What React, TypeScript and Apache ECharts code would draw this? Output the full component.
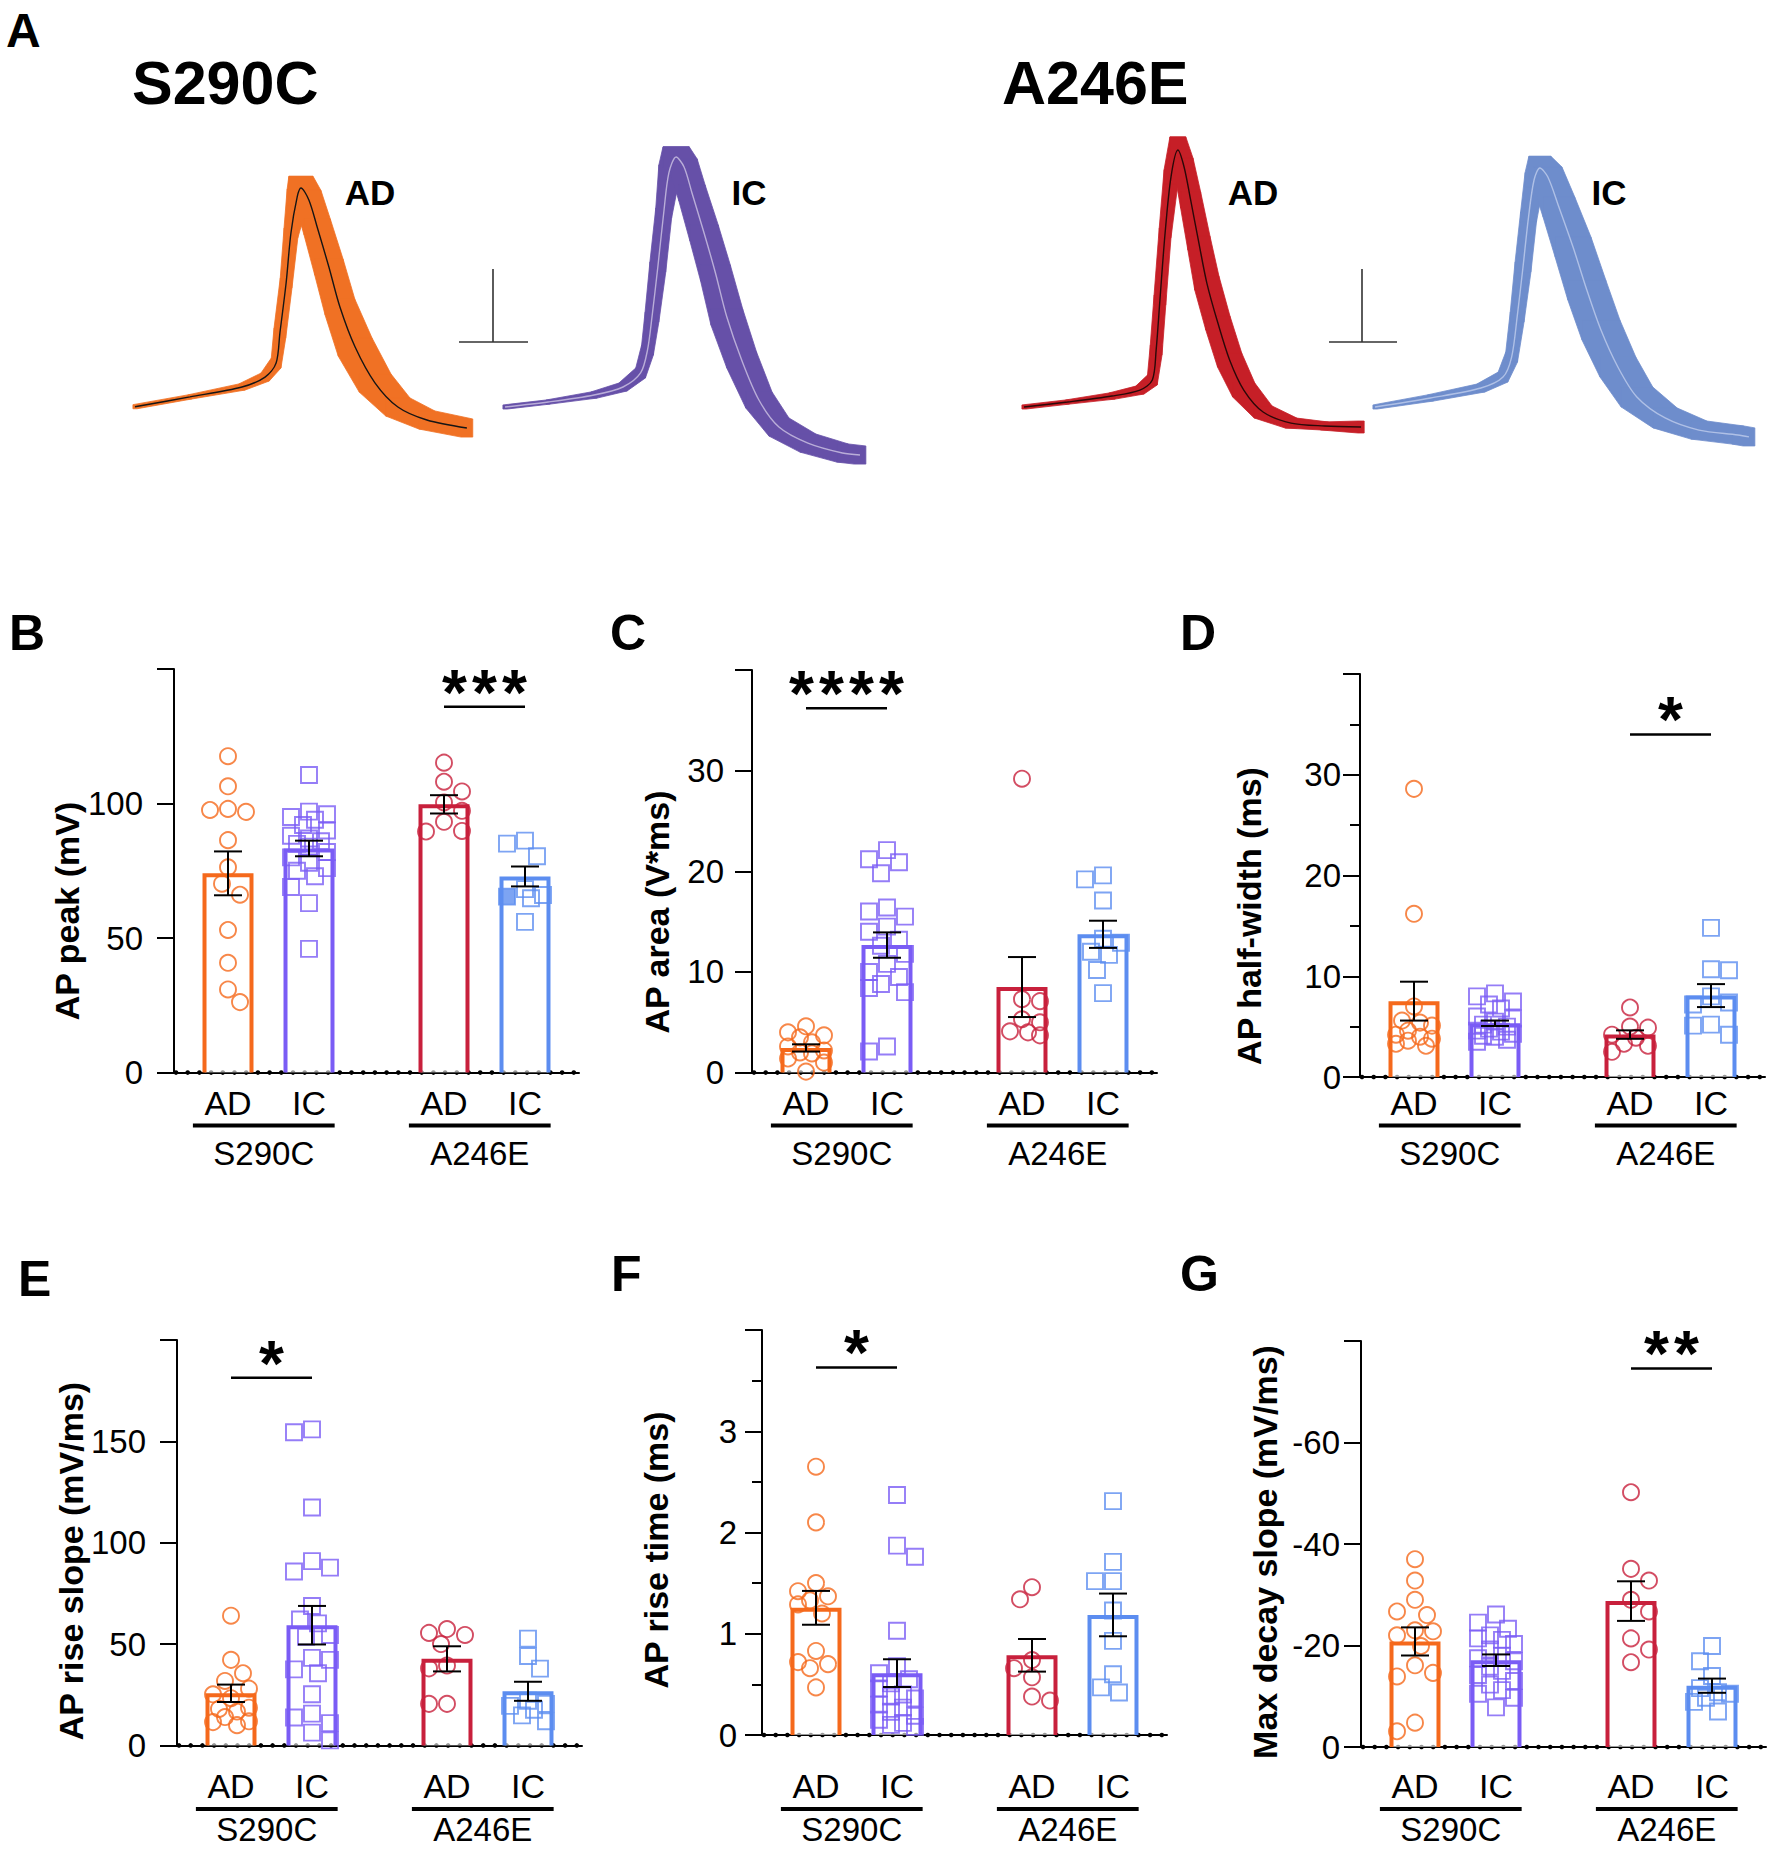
import React, { useEffect, useRef } from "react";
import * as echarts from "echarts";

const FONT = "'Liberation Sans', Arial, Helvetica, sans-serif";

// ---------- categories ----------
const conditions = ["AD", "IC", "AD", "IC"];
const groupNames = ["S290C", "A246E"];
const catPos = [2, 5, 10, 13];
const groupMembers = [
  [0, 1],
  [2, 3],
];
const COLORS = ["#F5691C", "#7A5CF5", "#C8203C", "#5C8DF0"];
const SYMBOLS = ["circle", "rect", "circle", "rect"];

// ---------- Panel B: AP peak (mV) ----------
const B_S290C_AD = [117.6, 106.4, 98.0, 97.6, 96.9, 86.4, 76.3, 70.2, 66.1, 53.0, 40.8, 30.9, 26.2];
const B_S290C_IC = [110.6, 97, 96, 95, 94, 92, 90, 88, 87, 86, 85, 84, 82, 80, 78, 76, 75, 73, 69, 63, 46];
const B_A246E_AD = [115.2, 108.1, 104.5, 100.4, 97.3, 93.2, 89.8, 89.6];
const B_A246E_IC = [86.2, 85.1, 80.4, 68.2, 66.0, 65.4, 64.8, 56.0];
const B_mean = [74.05, 83.3, 99.7, 72.9];
const B_sem = [8.15, 2.9, 3.4, 3.7];

// ---------- Panel C: AP area (V*ms) ----------
const C_S290C_AD = [4.6, 4.0, 3.7, 3.5, 3.0, 2.6, 2.2, 2.0, 1.9, 1.4, 1.0, 0.1];
const C_S290C_IC = [22.1, 21.2, 20.9, 19.8, 16.4, 16.0, 15.5, 14.5, 14.0, 13.2, 12.6, 11.8, 10.8, 10.0, 9.5, 8.8, 8.4, 8.0, 2.6, 2.1];
const C_A246E_AD = [29.2, 7.3, 7.1, 5.3, 5.0, 4.1, 4.0, 3.7];
const C_A246E_IC = [19.6, 19.2, 17.1, 13.3, 12.9, 12.0, 11.7, 10.2, 7.9];
const C_mean = [2.45, 12.67, 8.5, 13.74];
const C_sem = [0.36, 1.26, 2.98, 1.35];

// ---------- Panel D: AP half-width (ms) ----------
const D_S290C_AD = [28.6, 16.2, 7.0, 5.6, 5.4, 5.1, 4.6, 4.2, 4.0, 3.8, 3.6, 3.3, 3.1];
const D_S290C_IC = [8.3, 8.0, 7.5, 7.2, 6.8, 6.0, 5.8, 5.5, 5.2, 5.0, 4.8, 4.6, 4.5, 4.3, 4.1, 4.0, 3.7, 3.5];
const D_A246E_AD = [6.9, 5.0, 4.9, 4.2, 3.9, 3.3, 3.1, 2.5];
const D_A246E_IC = [14.8, 10.7, 10.6, 8.0, 7.4, 7.2, 5.2, 5.1, 4.2];
const D_mean = [7.53, 5.33, 4.21, 8.08];
const D_sem = [1.93, 0.27, 0.42, 1.14];

// ---------- Panel E: AP rise slope (mV/ms) ----------
const E_S290C_AD = [64.0, 42.2, 35.6, 31.8, 28.0, 25.2, 23.3, 18.6, 18.0, 16.7, 14.0, 11.9, 11.5, 10.0];
const E_S290C_IC = [155.9, 154.5, 117.4, 90.9, 87.7, 85.8, 68.8, 62.1, 60.2, 54.5, 53.6, 43.2, 42.2, 37.5, 35.6, 25.2, 15.7, 13.8, 11.0, 6.3, 2.5];
const E_A246E_AD = [57.4, 55.5, 54.5, 50.0, 39.4, 38.0, 20.5, 20.5];
const E_A246E_IC = [52.7, 44.1, 37.9, 22.0, 20.5, 19.5, 17.6, 14.8, 11.9];
const E_mean = [25.7, 59.3, 42.7, 26.7];
const E_sem = [4.3, 9.5, 6.2, 4.7];

// ---------- Panel F: AP rise time (ms) ----------
const F_S290C_AD = [2.65, 2.1, 1.5, 1.42, 1.37, 1.33, 1.29, 1.2, 0.83, 0.72, 0.7, 0.66, 0.47];
const F_S290C_IC = [2.37, 1.87, 1.76, 1.03, 0.68, 0.61, 0.55, 0.51, 0.46, 0.4, 0.38, 0.36, 0.3, 0.27, 0.23, 0.19, 0.15, 0.12, 0.1, 0.08];
const F_A246E_AD = [1.46, 1.34, 0.74, 0.66, 0.57, 0.38, 0.34];
const F_A246E_IC = [2.31, 1.71, 1.52, 1.52, 1.23, 0.93, 0.6, 0.47, 0.42];
const F_mean = [1.256, 0.611, 0.787, 1.186];
const F_sem = [0.167, 0.137, 0.161, 0.211];

// ---------- Panel G: Max decay slope (mV/ms) ----------
const G_S290C_AD = [-37.0, -32.8, -29.0, -26.7, -26.0, -23.0, -22.8, -22.0, -19.9, -16.1, -14.6, -13.9, -4.8, -3.1];
const G_S290C_IC = [-26.1, -24.5, -23.3, -22.0, -21.4, -21.1, -20.3, -19.2, -18.0, -17.5, -16.9, -15.8, -15.0, -14.2, -13.0, -12.3, -11.2, -10.5, -9.7, -7.8];
const G_A246E_AD = [-50.2, -35.1, -32.8, -29.0, -26.7, -21.4, -19.2, -16.7];
const G_A246E_IC = [-19.9, -16.9, -14.0, -11.6, -10.8, -10.5, -9.7, -8.9, -7.0];
const G_mean = [-20.8, -17.1, -28.75, -12.08];
const G_sem = [2.77, 1.14, 3.9, 1.4];

// ---------- Panel A: mean AP traces (time ms, mV) with SEM (time, voltage) ----------
const ORANGE_T = [0, 15.9, 31.0, 37.7, 40.9, 42.0, 43.8, 45.2, 47.0, 48.1, 50.4, 52.8, 56.2, 59.4, 63.8, 69.6, 76.2, 84.6, 96.2];
const ORANGE_V = [-63.5, -56.8, -50, -43.2, -33.6, -13, 21.2, 55.5, 80.1, 86.3, 78.1, 59.6, 32.2, 4.8, -22.6, -47.3, -63.7, -72.6, -78.1];
const ORANGE_ET = [0.6, 0.6, 0.9, 1.2, 1.4, 1.7, 1.7, 2.0, 2.9, 3.5, 3.5, 3.8, 4.1, 4.3, 4.9, 4.6, 3.5, 2.3, 1.7];
const ORANGE_EV = [1.4, 1.4, 2.1, 2.7, 3.4, 3.4, 3.4, 3.4, 5.5, 8.0, 6.5, 5.5, 5.5, 5.5, 6.2, 6.2, 6.2, 6.2, 6.2];

const PURPLE_T = [0, 12.5, 25.8, 34.2, 39.3, 41.3, 42.6, 44.3, 46.0, 47.5, 49.6, 51.9, 54.2, 57.7, 61.0, 64.3, 68.6, 73.6, 79.4, 87.8, 97.8, 102.9];
const PURPLE_V = [-63.7, -60.3, -55.5, -50, -40.4, -24.7, -2.1, 32.2, 69.2, 96.6, 107.5, 100.7, 82.9, 55.5, 28.1, -2.1, -31.5, -58.9, -77.4, -88.4, -95.2, -96.6];
const PURPLE_ET = [0.6, 0.6, 0.9, 1.2, 1.4, 1.7, 2.0, 2.3, 2.3, 2.9, 3.8, 3.8, 3.8, 4.1, 4.3, 4.6, 4.3, 3.8, 2.9, 2.3, 1.7, 1.7];
const PURPLE_EV = [1.4, 1.4, 2.1, 2.7, 3.4, 3.4, 3.4, 3.4, 3.4, 5.5, 7.0, 5.5, 5.5, 5.5, 5.5, 5.5, 5.5, 5.5, 6.2, 6.2, 6.2, 6.2];

const RED_T = [0, 12.6, 25.5, 33.6, 37.2, 38.3, 39.4, 40.9, 42.6, 44.6, 46.4, 48.3, 50.7, 53.0, 56.2, 59.6, 63.7, 69.3, 77.4, 87.1, 97.7];
const RED_V = [-63.7, -60.3, -56.2, -52.1, -45.2, -24.7, 9.6, 55.5, 93.8, 112.3, 100.7, 78.1, 48.6, 21.2, -6.2, -31.5, -52.1, -67.1, -74.7, -76.7, -77.4];
const RED_ET = [0.6, 0.6, 0.9, 1.2, 1.4, 1.7, 1.7, 1.7, 2.0, 2.3, 2.6, 2.9, 3.2, 3.5, 3.5, 3.5, 3.2, 2.6, 1.7, 1.2, 0.9];
const RED_EV = [1.4, 1.4, 2.1, 2.7, 3.4, 3.4, 3.4, 3.4, 5.0, 9.0, 6.0, 5.5, 4.8, 4.8, 4.8, 4.8, 4.8, 4.1, 3.4, 2.7, 4.1];

const BLUE_T = [0, 16.1, 30.7, 37.1, 39.6, 41.2, 42.9, 44.5, 46.1, 47.8, 50.1, 53.3, 57.4, 61.4, 65.5, 70.4, 75.9, 84.1, 93.9, 105.2, 108.4];
const BLUE_V = [-63.7, -57.5, -50.7, -43.2, -29.5, -2.1, 32.2, 66.4, 91.8, 100, 93.8, 73.3, 45.9, 16.4, -11, -36.3, -56.8, -71.2, -79.5, -82.9, -84.2];
const BLUE_ET = [0.6, 0.9, 1.2, 1.4, 1.7, 2.0, 2.3, 2.3, 2.6, 3.2, 4.1, 4.6, 5.2, 5.5, 5.5, 5.2, 4.6, 3.5, 2.3, 1.7, 1.7];
const BLUE_EV = [1.4, 2.1, 2.7, 3.4, 3.4, 3.4, 3.4, 3.4, 5.0, 8.0, 6.8, 6.8, 6.8, 6.8, 6.8, 6.8, 6.8, 6.8, 6.2, 6.2, 6.2];

// ---------- panel definitions ----------
const panels: any[] = [
  { id: "B", title: "AP peak (mV)", min: 0, max: 150, interval: 50, minor: false, inverse: false, hide: 150,
    groups: [B_S290C_AD, B_S290C_IC, B_A246E_AD, B_A246E_IC], mean: B_mean, sem: B_sem,
    sig: { a: 2, b: 3, y: 136, stars: 3 }, filled: [[3, 5]] },
  { id: "C", title: "AP area (V*ms)", min: 0, max: 40, interval: 10, minor: false, inverse: false, hide: 40,
    groups: [C_S290C_AD, C_S290C_IC, C_A246E_AD, C_A246E_IC], mean: C_mean, sem: C_sem,
    sig: { a: 0, b: 1, y: 36.2, stars: 4 }, filled: [] },
  { id: "D", title: "AP half-width (ms)", min: 0, max: 40, interval: 10, minor: true, inverse: false, hide: 40,
    groups: [D_S290C_AD, D_S290C_IC, D_A246E_AD, D_A246E_IC], mean: D_mean, sem: D_sem,
    sig: { a: 2, b: 3, y: 34.0, stars: 1 }, filled: [] },
  { id: "E", title: "AP rise slope (mV/ms)", min: 0, max: 200, interval: 50, minor: false, inverse: false, hide: 200,
    groups: [E_S290C_AD, E_S290C_IC, E_A246E_AD, E_A246E_IC], mean: E_mean, sem: E_sem,
    sig: { a: 0, b: 1, y: 181.4, stars: 1 }, filled: [] },
  { id: "F", title: "AP rise time (ms)", min: 0, max: 4, interval: 1, minor: true, inverse: false, hide: 4,
    groups: [F_S290C_AD, F_S290C_IC, F_A246E_AD, F_A246E_IC], mean: F_mean, sem: F_sem,
    sig: { a: 0, b: 1, y: 3.63, stars: 1 }, filled: [] },
  { id: "G", title: "Max decay slope (mV/ms)", min: -80, max: 0, interval: 20, minor: false, inverse: true, hide: -80,
    groups: [G_S290C_AD, G_S290C_IC, G_A246E_AD, G_A246E_IC], mean: G_mean, sem: G_sem,
    sig: { a: 2, b: 3, y: -74.6, stars: 2 }, filled: [] },
];

// ---------- layout (pixels) ----------
const layout: any = {
  B: { left: 174, top: 669, width: 405, height: 403.6, tickMargin: 31, letter: [9, 633], titleC: [67, 911], condY: 1102.5, ulY: 1125.5, groupY: 1153 },
  C: { left: 752, top: 670, width: 405, height: 402.6, tickMargin: 28, letter: [610, 633], titleC: [657, 912], condY: 1102.5, ulY: 1125.5, groupY: 1153 },
  D: { left: 1360, top: 674, width: 405, height: 403, tickMargin: 19, letter: [1180, 633], titleC: [1249, 916], condY: 1102.5, ulY: 1125.5, groupY: 1153 },
  E: { left: 177, top: 1340, width: 405, height: 405.4, tickMargin: 31, letter: [18, 1279], titleC: [71, 1561], condY: 1786, ulY: 1809, groupY: 1829 },
  F: { left: 762, top: 1330, width: 405, height: 405, tickMargin: 25, letter: [611, 1274], titleC: [656, 1550], condY: 1786, ulY: 1809, groupY: 1829 },
  G: { left: 1361, top: 1341, width: 405, height: 406, tickMargin: 21, letter: [1180, 1274], titleC: [1265, 1552], condY: 1786, ulY: 1809, groupY: 1829 },
};

const traces = [
  { t: ORANGE_T, v: ORANGE_V, et: ORANGE_ET, ev: ORANGE_EV, band: "#F07124", line: "#151515", xMax: 100, left: 135 },
  { t: PURPLE_T, v: PURPLE_V, et: PURPLE_ET, ev: PURPLE_EV, band: "#6650A8", line: "#B9ADD8", xMax: 105, left: 505 },
  { t: RED_T, v: RED_V, et: RED_ET, ev: RED_EV, band: "#C61F27", line: "#2A0808", xMax: 100, left: 1024 },
  { t: BLUE_T, v: BLUE_V, et: BLUE_ET, ev: BLUE_EV, band: "#6E8DCC", line: "#AFC0E6", xMax: 110, left: 1375 },
];
const TRACE_Y = { min: -100, max: 130, top: 124.2, height: 335.8 };
const PX_PER_MS = 3.45;

const BAR_W = 1.74; // x units
const X_MAX = 15;
const SYM = 16;

function swarm(vals: number[], pxY: number, pxX: number): number[] {
  const D = 17, STEP = 6, MAXO = 21;
  const order = vals.map((_, i) => i).sort((a, b) => Math.abs(vals[b]) - Math.abs(vals[a]));
  const placed: number[][] = [];
  const out = new Array(vals.length).fill(0);
  let flip = 1;
  for (const i of order) {
    const y = Math.abs(vals[i]) * pxY;
    const cands = [0];
    for (let k = 1; k * STEP <= MAXO; k++) cands.push(flip * k * STEP, -flip * k * STEP);
    let best = 0, bestD = -1;
    for (const c of cands) {
      let md = Infinity;
      for (const p of placed) {
        const d = Math.hypot(p[0] - c, p[1] - y);
        if (d < md) md = d;
      }
      if (md >= D) { best = c; break; }
      if (md > bestD) { bestD = md; best = c; }
    }
    placed.push([best, y]);
    out[i] = best / pxX;
    flip = -flip;
  }
  return out;
}

function hull(pts: number[][]): number[][] {
  const p = pts.slice().sort((a, b) => a[0] - b[0] || a[1] - b[1]);
  const cross = (o: number[], a: number[], b: number[]) => (a[0] - o[0]) * (b[1] - o[1]) - (a[1] - o[1]) * (b[0] - o[0]);
  const lower: number[][] = [];
  for (const q of p) {
    while (lower.length >= 2 && cross(lower[lower.length - 2], lower[lower.length - 1], q) <= 0) lower.pop();
    lower.push(q);
  }
  const upper: number[][] = [];
  for (let i = p.length - 1; i >= 0; i--) {
    const q = p[i];
    while (upper.length >= 2 && cross(upper[upper.length - 2], upper[upper.length - 1], q) <= 0) upper.pop();
    upper.push(q);
  }
  upper.pop();
  lower.pop();
  return lower.concat(upper);
}

function txt(text: string, x: number, y: number, font: string, align = "center", extra: any = {}) {
  return {
    type: "text", x, y, ...extra,
    style: { text, font, fill: "#000", align, verticalAlign: "middle", textAlign: align, textVerticalAlign: "middle" },
  };
}

function buildOption() {
  const grid: any[] = [], xAxis: any[] = [], yAxis: any[] = [], series: any[] = [];
  const graphic: any[] = [];

  panels.forEach((p, k) => {
    const L = layout[p.id];
    grid.push({ left: L.left, top: L.top, width: L.width, height: L.height });
    xAxis.push({
      type: "value", gridIndex: k, min: 0, max: X_MAX,
      axisLine: { show: true, onZero: false, lineStyle: { color: "#000", width: 2 } },
      axisTick: { show: false }, axisLabel: { show: false }, splitLine: { show: false },
    });
    yAxis.push({
      type: "value", gridIndex: k, min: p.min, max: p.max, interval: p.interval, inverse: p.inverse,
      axisLine: { show: true, onZero: false, lineStyle: { color: "#000", width: 2 } },
      axisTick: { show: true, length: 17, lineStyle: { color: "#000", width: 2 } },
      minorTick: { show: p.minor, splitNumber: 2, length: 10, lineStyle: { color: "#000", width: 2 } },
      splitLine: { show: false }, minorSplitLine: { show: false },
      axisLabel: {
        margin: L.tickMargin, fontSize: 33, fontFamily: FONT, color: "#000",
        formatter: (v: number) => (v === p.hide ? "" : String(v)),
      },
    });
    const pxY = L.height / (p.max - p.min);
    const pxX = L.width / X_MAX;

    // dotted baseline
    series.push({
      type: "custom", xAxisIndex: k, yAxisIndex: k, z: 1, silent: true, data: [[0, 0]],
      renderItem: (params: any, api: any) => {
        const a = api.coord([0, 0]);
        const b = api.coord([X_MAX, 0]);
        const children: any[] = [];
        for (let x = a[0] + 2; x <= b[0] - 1; x += 11.7) {
          children.push({ type: "circle", shape: { cx: x, cy: a[1], r: 2.3 }, style: { fill: "#000" } });
        }
        return { type: "group", children };
      },
    });

    // bars (open bottom outline)
    series.push({
      type: "custom", xAxisIndex: k, yAxisIndex: k, z: 2, silent: true,
      data: catPos.map((x, i) => [x, p.mean[i], i]),
      renderItem: (params: any, api: any) => {
        const x = api.value(0), m = api.value(1), gi = api.value(2);
        const base = api.coord([x, 0]);
        const top = api.coord([x, m]);
        const hw = api.size([BAR_W, 0])[0] / 2;
        const ty = top[1] + 2;
        const lx = base[0] - hw, rx = base[0] + hw;
        return {
          type: "group",
          children: [
            { type: "rect", shape: { x: lx, y: ty, width: 2 * hw, height: base[1] - ty }, style: { fill: "rgba(255,255,255,0.6)" } },
            { type: "polyline", shape: { points: [[lx, base[1]], [lx, ty], [rx, ty], [rx, base[1]]] },
              style: { stroke: COLORS[gi], lineWidth: 4, fill: "none" } },
          ],
        };
      },
    });

    // individual points
    p.groups.forEach((vals: number[], gi: number) => {
      const offs = swarm(vals, pxY, pxX);
      series.push({
        type: "scatter", xAxisIndex: k, yAxisIndex: k, z: 3, silent: true,
        symbol: SYMBOLS[gi], symbolSize: SYM,
        itemStyle: { color: "rgba(255,255,255,0)", borderColor: COLORS[gi], borderWidth: 1.9 },
        data: vals.map((v, j) => {
          const isFilled = p.filled.some((f: number[]) => f[0] === gi && f[1] === j);
          return isFilled
            ? { value: [catPos[gi] + offs[j], v], itemStyle: { color: COLORS[gi] } }
            : { value: [catPos[gi] + offs[j], v] };
        }),
      });
    });

    // error bars (mean ± SEM)
    series.push({
      type: "custom", xAxisIndex: k, yAxisIndex: k, z: 4, silent: true,
      data: catPos.map((x, i) => [x, p.mean[i], p.sem[i]]),
      renderItem: (params: any, api: any) => {
        const x = api.value(0), m = api.value(1), s = api.value(2);
        const p1 = api.coord([x, m - s]);
        const p2 = api.coord([x, m + s]);
        const cap = 14;
        const st = { stroke: "#000", lineWidth: 2 };
        return {
          type: "group",
          children: [
            { type: "line", shape: { x1: p1[0], y1: p1[1], x2: p2[0], y2: p2[1] }, style: st },
            { type: "line", shape: { x1: p1[0] - cap, y1: p1[1], x2: p1[0] + cap, y2: p1[1] }, style: st },
            { type: "line", shape: { x1: p2[0] - cap, y1: p2[1], x2: p2[0] + cap, y2: p2[1] }, style: st },
          ],
        };
      },
    });

    // significance bar with asterisks
    series.push({
      type: "custom", xAxisIndex: k, yAxisIndex: k, z: 5, silent: true,
      data: [[catPos[p.sig.a], catPos[p.sig.b], p.sig.y]],
      renderItem: (params: any, api: any) => {
        const a = api.coord([api.value(0), api.value(2)]);
        const b = api.coord([api.value(1), api.value(2)]);
        const mid = (a[0] + b[0]) / 2;
        const n = p.sig.stars;
        const children: any[] = [
          { type: "line", shape: { x1: a[0], y1: a[1], x2: b[0], y2: b[1] }, style: { stroke: "#000", lineWidth: 2.5 } },
        ];
        for (let i = 0; i < n; i++) {
          children.push(txt("*", mid + (i - (n - 1) / 2) * 30, a[1] - 14, `bold 64px ${FONT}`));
        }
        return { type: "group", children };
      },
    });

    // condition labels and group underlines
    series.push({
      type: "custom", xAxisIndex: k, yAxisIndex: k, z: 5, silent: true,
      data: [[0, 0]],
      renderItem: (params: any, api: any) => {
        const children: any[] = [];
        catPos.forEach((x, i) => {
          const c = api.coord([x, 0]);
          children.push(txt(conditions[i], c[0], L.condY, `34px ${FONT}`));
        });
        groupMembers.forEach((mem, gi) => {
          const s = api.coord([catPos[mem[0]] - 1.3, 0]);
          const e = api.coord([catPos[mem[1]] + 0.95, 0]);
          children.push({ type: "line", shape: { x1: s[0], y1: L.ulY, x2: e[0], y2: L.ulY }, style: { stroke: "#000", lineWidth: 4 } });
          children.push(txt(groupNames[gi], (s[0] + e[0]) / 2, L.groupY, `33px ${FONT}`));
        });
        return { type: "group", children };
      },
    });

    graphic.push(txt(p.id, L.letter[0], L.letter[1], `bold 50px ${FONT}`, "left"));
    graphic.push(txt(p.title, L.titleC[0], L.titleC[1], `bold 34px ${FONT}`, "center", { rotation: Math.PI / 2 }));
  });

  // ---------- Panel A traces ----------
  traces.forEach((tr, ti) => {
    const gi = panels.length + ti;
    grid.push({ left: tr.left, top: TRACE_Y.top, width: tr.xMax * PX_PER_MS, height: TRACE_Y.height });
    xAxis.push({ type: "value", gridIndex: gi, min: 0, max: tr.xMax, show: false });
    yAxis.push({ type: "value", gridIndex: gi, min: TRACE_Y.min, max: TRACE_Y.max, show: false });
    series.push({
      type: "custom", xAxisIndex: gi, yAxisIndex: gi, z: 1, silent: true,
      data: tr.t.slice(0, -1).map((t, i) => [t, tr.v[i], i]),
      renderItem: (params: any, api: any) => {
        const i = api.value(2);
        const corners: number[][] = [];
        [i, i + 1].forEach((j) => {
          const c = api.coord([tr.t[j], tr.v[j]]);
          const s = api.size([tr.et[j], tr.ev[j]]);
          corners.push([c[0] - s[0], c[1] - s[1]], [c[0] + s[0], c[1] - s[1]], [c[0] + s[0], c[1] + s[1]], [c[0] - s[0], c[1] + s[1]]);
        });
        return {
          type: "polygon", shape: { points: hull(corners) },
          style: { fill: tr.band, stroke: tr.band, lineWidth: 0.8 },
        };
      },
    });
    series.push({
      type: "line", xAxisIndex: gi, yAxisIndex: gi, z: 2, silent: true, showSymbol: false, smooth: 0.3,
      data: tr.t.map((t, i) => [t, tr.v[i]]),
      lineStyle: { color: tr.line, width: 1.4 },
    });
  });

  // ---------- Panel A texts / scale bars ----------
  graphic.push(txt("A", 6, 30, `bold 48px ${FONT}`, "left"));
  graphic.push(txt("S290C", 132, 83, `bold 61px ${FONT}`, "left"));
  graphic.push(txt("A246E", 1002, 83, `bold 61px ${FONT}`, "left"));
  graphic.push(txt("AD", 370, 192, `bold 35px ${FONT}`));
  graphic.push(txt("IC", 749, 192, `bold 35px ${FONT}`));
  graphic.push(txt("AD", 1253, 192, `bold 35px ${FONT}`));
  graphic.push(txt("IC", 1609, 192, `bold 35px ${FONT}`));
  const sb = { stroke: "#333", lineWidth: 1.6 };
  graphic.push({ type: "line", shape: { x1: 493, y1: 269, x2: 493, y2: 342 }, style: sb });
  graphic.push({ type: "line", shape: { x1: 459, y1: 342, x2: 528, y2: 342 }, style: sb });
  graphic.push({ type: "line", shape: { x1: 1362, y1: 269, x2: 1362, y2: 342 }, style: sb });
  graphic.push({ type: "line", shape: { x1: 1329, y1: 342, x2: 1397, y2: 342 }, style: sb });

  return {
    animation: false,
    backgroundColor: "#fff",
    textStyle: { fontFamily: FONT },
    grid, xAxis, yAxis, series, graphic,
  };
}

export default function App() {
  const ref = useRef<HTMLDivElement>(null);
  useEffect(() => {
    const chart = echarts.init(ref.current as HTMLDivElement, null, { renderer: "svg", width: 1772, height: 1849 });
    chart.setOption(buildOption() as any);
    return () => chart.dispose();
  }, []);
  return (
    <div
      ref={ref}
      style={{ position: "absolute", left: 0, top: 0, width: 1772, height: 1849, background: "#fff" }}
    />
  );
}
